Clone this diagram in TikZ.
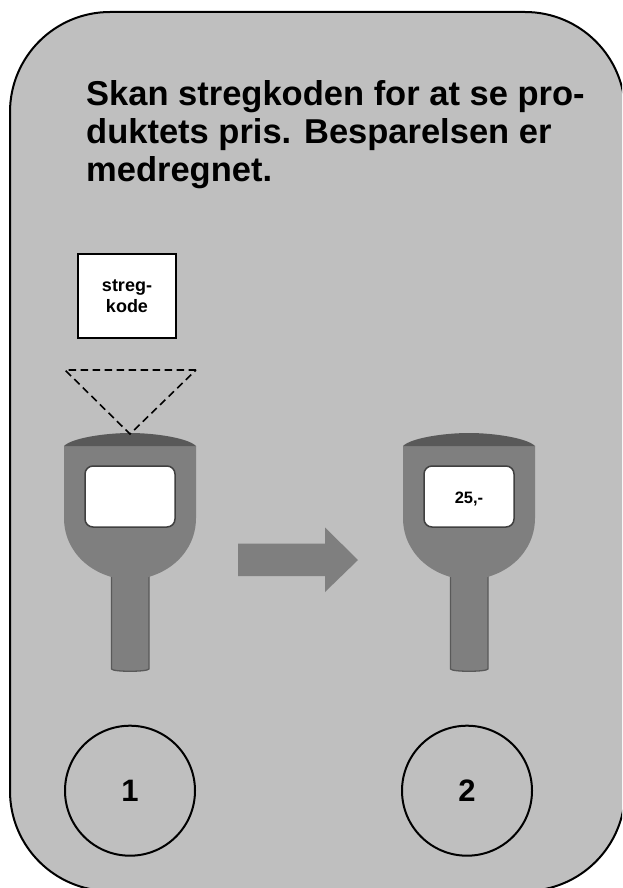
\documentclass[tikz,border=0pt]{standalone}
\usepackage{fontspec}
\setmainfont{Liberation Sans}
\definecolor{bgg}{HTML}{BFBFBF}
\definecolor{bodyg}{HTML}{7F7F7F}
\definecolor{capg}{HTML}{595959}
\definecolor{edgeg}{HTML}{404040}
\tikzset{
  panel/.style={draw=black,line width=2pt,fill=bgg,rounded corners=100pt},
  numcirc/.style={draw=black,line width=2pt,circle,minimum size=130pt,inner sep=0pt,font=\fontsize{31}{33}\selectfont\bfseries},
  codebox/.style={draw=black,line width=2pt,fill=white,minimum width=98pt,minimum height=84pt,inner sep=0pt,align=center,font=\fontsize{18}{21.5}\selectfont\bfseries},
  screenbox/.style={draw=edgeg,line width=1.5pt,fill=white,rounded corners=8pt,minimum width=90pt,minimum height=61pt,inner sep=0pt,font=\fontsize{16.5}{18}\selectfont\bfseries},
  scanline/.style={draw=black,line width=1.6pt,dash pattern=on 7.5pt off 4.5pt},
  bodyfill/.style={fill=bodyg,draw=none},
  handle/.style={fill=bodyg,draw=capg,line width=1.3pt},
  flowarrow/.style={fill=bodyg,draw=none},
}
\newcommand{\scanner}[3]{%
  \begin{scope}[shift={(#1,0)}]
    \path[handle] (111.5,575) -- (111.5,669) .. controls (113,672) and (147,672) .. (149,669) -- (149,575) -- cycle;
    \path[bodyfill] (64,446) -- (64,518) .. controls (64,552) and (92,578) .. (130,580) .. controls (168,578) and (196,552) .. (196,518) -- (196,446) -- cycle;
    \path[fill=capg] (64,446) .. controls (72,438) and (105,433) .. (130,433) .. controls (155,433) and (188,438) .. (196,446) -- cycle;
    \node[screenbox] (#2) at (130,496.5) {\raisebox{-6.5pt}[0pt][0pt]{#3}};
  \end{scope}}
\begin{document}
\begin{tikzpicture}[x=1pt,y=-1pt]
\useasboundingbox (0,0) rectangle (622,888);
\begin{scope}
\clip (0,0) rectangle (622,888);
\path[panel] (10,12) rectangle (625,891);
\end{scope}
\node[anchor=north west,inner sep=0pt,align=left,font=\fontsize{34.5}{38}\selectfont\bfseries] (title) at (86,80) {Skan stregkoden for at se pro-\\duktets pris. Besparelsen er\\medregnet.};
\node[codebox] (code) at (127,296) {streg-\\kode};
\coordinate (t1) at (65,370);
\coordinate (t2) at (196,370);
\coordinate (t3) at (130,434);
\scanner{0}{s1}{}
\scanner{339}{s2}{25,-}
\draw[scanline] (t2) -- (t1) -- (t3) -- (t2);
\path[flowarrow] (238,543.5) -- (325,543.5) -- (325,527.5) -- (358,560) -- (325,592) -- (325,576) -- (238,576) -- cycle;
\node[numcirc] (n1) at (130,790.7) {1};
\node[numcirc] (n2) at (467,790.7) {2};
\end{tikzpicture}
\end{document}
